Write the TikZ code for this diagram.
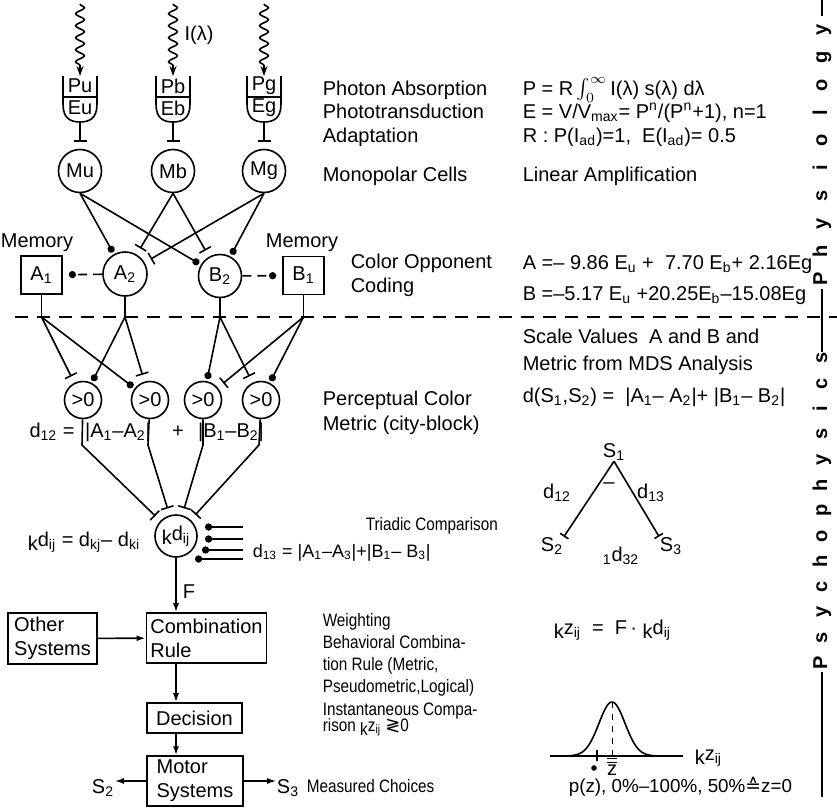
\documentclass[tikz,border=0pt]{standalone}
\usepackage{fontspec}
\setmainfont{Liberation Sans}
\newfontfamily\symfont{DejaVu Sans}
\newfontfamily\lowfont[FakeStretch=0.85]{Liberation Sans}
\usetikzlibrary{arrows.meta, positioning, calc, decorations.pathmorphing}
\tikzset{every picture/.append style={thick}}
\newcommand{\lo}[1]{\textsubscript{#1}}
\newcommand{\hi}[1]{\textsuperscript{#1}}
\newcommand{\pre}[1]{\raisebox{-0.45ex}{#1}}
\tikzset{
  cell/.style={circle, draw, minimum size=21.5pt, inner sep=0pt},
  gate/.style={circle, draw, minimum size=18.5pt, inner sep=0pt},
  memo/.style={draw, minimum width=20.5pt, minimum height=19pt, inner sep=0pt},
  block/.style={draw, align=left, inner sep=2pt},
  inh/.style={-{Bar[width=6.5pt]}, shorten >=3.5pt},
  exc/.style={-{Circle[length=3.6pt]}, shorten >=1pt},
  flow/.style={-{Latex[length=4.5pt, width=3pt]}},
  memline/.style={dash pattern=on 4.5pt off 3pt, -{Circle[length=3.6pt]}, shorten >=3pt},
  photon/.style={decorate, decoration={snake, amplitude=2.2pt, segment length=6pt, post length=4pt},
                 -{Stealth[length=5pt, width=3.5pt]}},
  txt/.style={anchor=base west, inner sep=0pt},
  lowtxt/.style={txt, font=\lowfont\fontsize{9}{10.8}\selectfont},
  lab/.style={inner sep=0pt},
  side/.style={rotate=90, anchor=base, inner sep=0pt, font=\bfseries},
}

\begin{document}
\begin{tikzpicture}[x=0.5pt, y=-0.5pt]
    \useasboundingbox (0,0) rectangle (837,809);

    % Receptors: light, photopigment cups, monopolar cells
    \foreach \x/\c in {80/u,173/b,264/g} {
        \coordinate (L\c) at (\x,4);
        \coordinate (C\c) at (\x,76);
        \coordinate (U\c) at (\x,122);
        \node[lab] (P\c) at (\x,86) {P\c};
        \node[lab] (E\c) at (\x,108) {E\c};
        \draw (\x-17,76) -- (\x-17,104) .. controls (\x-17,118) and (\x-10,122) .. (\x,122)
              .. controls (\x+10,122) and (\x+17,118) .. (\x+17,104) -- (\x+17,76);
        \draw (\x-17,97) -- (\x+17,97);
        \draw[photon] (L\c) -- (C\c);
        \node[cell] (M\c) at (\x,171) {M\c};
        \draw[inh] (U\c) -- (M\c);
    }
    \node[lab] (Il) at (199,35) {I(λ)};

    % Color opponent coding
    \node[cell, minimum size=22pt] (A2) at (125,274) {A\lo{2}};
    \node[cell] (B2) at (220,276) {B\lo{2}};
    \node[memo] (A1) at (41.5,275) {A\lo{1}};
    \node[memo] (B1) at (303.5,275.5) {B\lo{1}};
    \node[lab] (memA) at (37,243) {Memory};
    \node[lab] (memB) at (302,243) {Memory};

    \draw[exc] (Mu.south) -- (A2);
    \draw[exc] (Mu.south) -- (B2);
    \draw[inh] (Mb.south) -- (A2);
    \draw[inh] (Mb.south) -- (B2);
    \draw[inh] (Mg.south) -- (A2);
    \draw[exc] (Mg.south) -- (B2);
    \draw[memline] (A2) -- (A1);
    \draw[memline] (B2) -- (B1);

    % Border physiology / psychophysics
    \draw[dash pattern=on 6.5pt off 4.5pt] (15,317) -- (837,317);
    \coordinate (jA1) at (41.5,317);
    \coordinate (jA2) at (125,317);
    \coordinate (jB2) at (220,317);
    \coordinate (jB1) at (303.5,317);
    \draw (A1) -- (jA1);
    \draw (A2) -- (jA2);
    \draw (B2) -- (jB2);
    \draw (B1) -- (jB1);

    % Perceptual color metric
    \foreach \i/\x in {1/83,2/150,3/203,4/261}
        \node[gate] (G\i) at (\x,400) {>0};
    \draw[inh] (jA1) -- (G1);
    \draw[exc] (jA2) -- (G1);
    \draw[exc] (jA1) -- (G2);
    \draw[inh] (jA2) -- (G2);
    \draw[exc] (jB2) -- (G3);
    \draw[inh] (jB1) -- (G3);
    \draw[inh] (jB2) -- (G4);
    \draw[exc] (jB1) -- (G4);

    \node[lab] (d12) at (52,432) {d\lo{12} =};
    \node[lab] (dA) at (118,432) {|A\lo{1}–A\lo{2}|};
    \node[lab] (plus) at (178,432) {+};
    \node[lab] (dB) at (231,432) {|B\lo{1}–B\lo{2}|};

    % Triadic comparison
    \node[cell, minimum size=21pt] (kd) at (176,536) {\pre{k}d\lo{ij}};
    \foreach \i/\x in {1/82,2/148,3/203,4/259} {
        \coordinate (K\i) at (\x,445);
        \draw[inh] (G\i) -- (K\i) -- (kd);
    }
    \foreach \y/\e in {527/205,539/205,550/202,559/195}
        \draw[exc, shorten >=0pt] (243,\y) -- (\e,\y);
    \node[lab] (kdeq) at (84,542) {\pre{k}d\lo{ij} = d\lo{kj}– d\lo{ki}};
    \node[txt, font=\fontsize{9}{11}\selectfont] (d13) at (252,557) {d\lo{13} = |A\lo{1}–A\lo{3}|+|B\lo{1}– B\lo{3}|};

    % Behavioral part
    \node[block, minimum width=44.5pt, minimum height=25.5pt] (other) at (52.5,638.5) {Other\\Systems};
    \node[block, minimum width=58.5pt, minimum height=25pt] (comb) at (206.5,638) {Combination\\Rule};
    \node[block, minimum width=47.5pt, minimum height=15pt] (dec) at (194.5,718) {Decision};
    \node[block, minimum width=48pt, minimum height=24pt] (motor) at (195,781) {Motor\\Systems};
    \node[lab] (S2) at (103,788) {S\lo{2}};
    \node[lab] (S3) at (288,788) {S\lo{3}};
    \node[lab] (F) at (189,592) {F};

    \draw[flow] (kd) -- (kd |- comb.north);
    \draw[flow] (other) -- (comb);
    \draw[flow] (kd |- comb.south) -- (kd |- dec.north);
    \draw[flow] (kd |- dec.south) -- (kd |- motor.north);
    \draw[flow] (motor.west) -- (motor.west -| S2.east);
    \draw[flow] (motor.east) -- (motor.east -| S3.west);

    % Stage names
    \node[txt] (t1) at (322,95) {Photon Absorption};
    \node[txt] (t2) at (322,118) {Phototransduction};
    \node[txt] (t3) at (322,142) {Adaptation};
    \node[txt] (t4) at (322,181) {Monopolar Cells};
    \node[txt] (t5) at (350,268) {Color Opponent};
    \node[txt] (t6) at (350,292) {Coding};
    \node[txt] (t7) at (322,405) {Perceptual Color};
    \node[txt] (t8) at (322,430) {Metric (city-block)};
    \node[lowtxt] (t9) at (365,530) {Triadic Comparison};
    \node[lowtxt] (t10) at (322,626) {Weighting};
    \node[lowtxt] (t11) at (322,648) {Behavioral Combina-};
    \node[lowtxt] (t12) at (322,670) {tion Rule (Metric,};
    \node[lowtxt] (t13) at (322,692) {Pseudometric,Logical)};
    \node[lowtxt] (t14) at (322,715) {Instantaneous Compa-};
    \node[lowtxt] (t15) at (322,731) {rison \pre{k}z\lo{ij} {\symfont ≷}0};
    \node[lowtxt] (t16) at (306,792) {Measured Choices};

    % Equations
    \node[txt] (e1) at (522,95) {P = R\,$\int_{0}^{\infty}$\,I(λ) s(λ) dλ};
    \node[txt] (e2) at (522,118) {E = V/V\lo{max}= P\hi{n}/(P\hi{n}+1), n=1};
    \node[txt] (e3) at (522,142) {R : P(I\lo{ad})=1, ~E(I\lo{ad})= 0.5};
    \node[txt] (e4) at (522,181) {Linear Amplification};
    \node[txt] (e5) at (522,269) {A =– 9.86 E\lo{u} + ~7.70 E\lo{b}+ 2.16Eg};
    \node[txt] (e6) at (522,300) {B =–5.17 E\lo{u} +20.25E\lo{b}–15.08Eg};
    \node[txt] (e7) at (522,343) {Scale Values ~A and B and};
    \node[txt] (e8) at (522,370) {Metric from MDS Analysis};
    \node[txt] (e9) at (522,402) {d(S\lo{1},S\lo{2}) = ~|A\lo{1}– A\lo{2}|+ |B\lo{1}– B\lo{2}|};
    \node[txt] (e10) at (553,634) {\pre{k}z\lo{ij} ~= ~F\,· \pre{k}d\lo{ij}};
    \node[txt, font=\fontsize{9.4}{11}\selectfont] (e11) at (568,792) {p(z), 0\%–100\%, 50\%{\symfont ≙}z=0};

    % Triad of stimuli
    \node[lab] (tS1) at (614,452) {S\lo{1}};
    \node[lab] (tS2) at (552,546) {S\lo{2}};
    \node[lab] (tS3) at (671,546) {S\lo{3}};
    \draw[-{Bar[width=5pt]}] (tS1.south) -- (tS2.north east);
    \draw[-{Bar[width=5pt]}] (tS1.south) -- (tS3.north west);
    \node[lab] (td12) at (557,493) {d\lo{12}};
    \node[lab] (tm) at (609,486) {–};
    \node[lab] (td13) at (651,493) {d\lo{13}};
    \node[lab] (td32) at (621,556) {\lo{1}d\lo{32}};

    % Distribution of comparisons
    \draw (550,756) -- (683,756);
    \draw plot[domain=562:662, samples=80] (\x, {756-54*exp(-((\x-612)/13)^2/2)});
    \draw[dashed, thin] (612,702) -- (612,756);
    \draw (597,750) -- (597,761);
    \fill (594,768) circle (1.4pt);
    \node[lab] (zbar) at (612,766) {$\overline{\overline{\mbox{z}}}$};
    \node[txt] (kz) at (694,760) {\pre{k}z\lo{ij}};

    % Side labels
    \draw (822,0) -- (822,16);
    \draw (822,289) -- (822,352);
    \draw (822,672) -- (822,797);
    \foreach \ch [count=\i] in {P,h,y,s,i,o,l,o,g,y}
        \node[side] (ph\i) at (827,279-27.7*\i+27.7) {\ch};
    \foreach \ch [count=\i] in {P,s,y,c,h,o,p,h,y,s,i,c,s}
        \node[side] (ps\i) at (827,663-25.4*\i+25.4) {\ch};
\end{tikzpicture}
\end{document}
